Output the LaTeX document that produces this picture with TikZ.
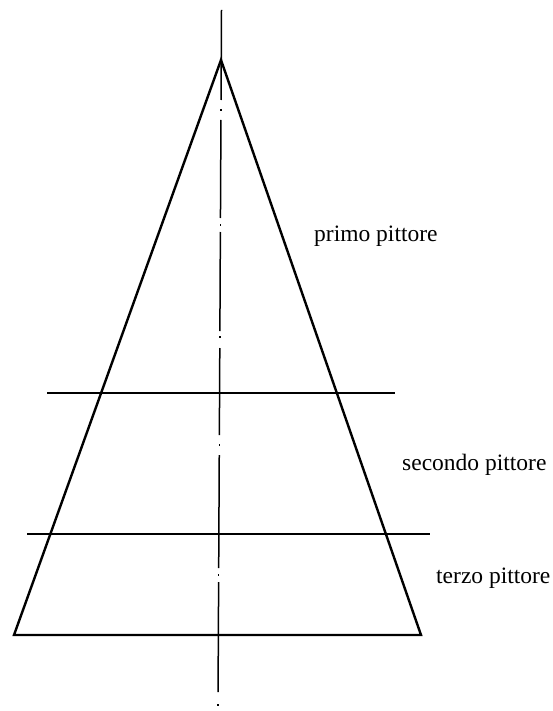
\documentclass[tikz,border=0pt]{standalone}
\usepackage{fontspec}
\setmainfont{Liberation Serif}
\begin{document}
\begin{tikzpicture}[x=1pt,y=-1pt,
  edge/.style={line width=2.4pt,line join=miter},
  cut/.style={line width=1.9pt},
  axis/.style={line width=1.5pt},
  dotmark/.style={line width=1.5pt},
  lbl/.style={anchor=base west,inner sep=0pt,font=\fontsize{23.5}{28}\selectfont}]
\useasboundingbox (0,0) rectangle (552,711);
% triangle
\coordinate (A) at (221,60);
\coordinate (B) at (14,635);
\coordinate (C) at (421,635);
\draw[edge] (A) -- (B) -- (C) -- cycle;
% horizontal cuts
\coordinate (h1l) at (47,393);
\coordinate (h1r) at (395,393);
\coordinate (h2l) at (27,534);
\coordinate (h2r) at (430,534);
\draw[cut] (h1l) -- (h1r);
\draw[cut] (h2l) -- (h2r);
% dash-dot axis
\foreach \a/\b in {10/100,120/218,232/331,348/435,455/568,582/692}{
  \draw[axis] ({221.5-3.5*(\a-10)/695},\a) -- ({221.5-3.5*(\b-10)/695},\b);
}
\foreach \d in {110,225,337,445,575,705}{
  \draw[dotmark] ({221.5-3.5*(\d-10)/695},{\d-1}) -- ({221.5-3.5*(\d-10)/695},{\d+1});
}
% labels
\node[lbl] (p1) at (314,241) {primo pittore};
\node[lbl] (p2) at (402,470) {secondo pittore};
\node[lbl] (p3) at (436,583) {terzo pittore};
\end{tikzpicture}
\end{document}
